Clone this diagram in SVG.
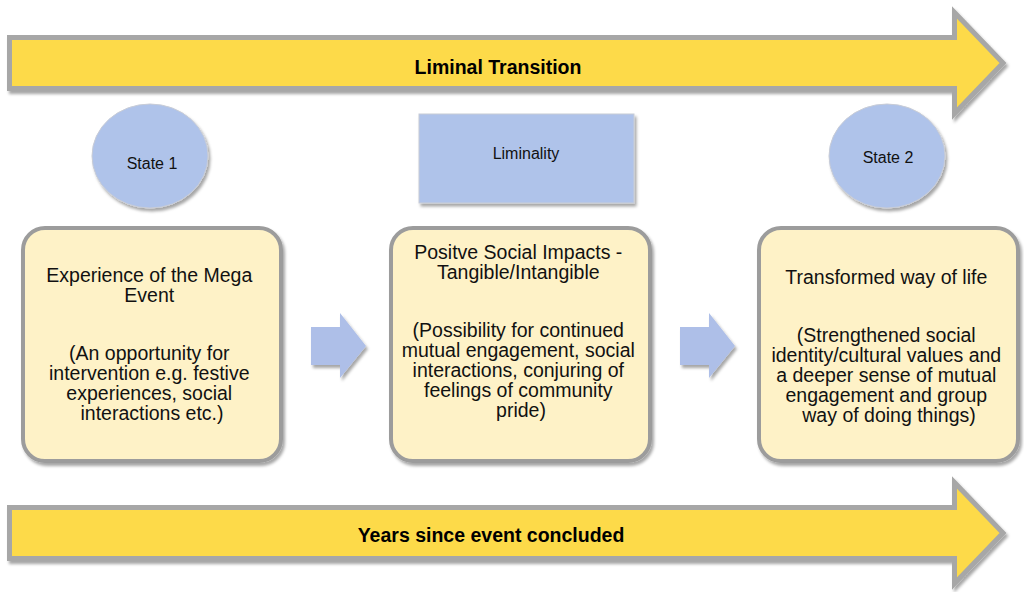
<svg xmlns="http://www.w3.org/2000/svg" width="1024" height="592" viewBox="0 0 1024 592">
<defs>
<filter id="sh" x="-10%" y="-10%" width="130%" height="140%">
<feDropShadow dx="2" dy="3" stdDeviation="1.8" flood-color="#000" flood-opacity="0.35"/>
</filter>
<style>
.bigarrow{fill:#FDDA48;stroke:#A7A7A7;stroke-width:5;filter:url(#sh)}
.box{fill:#FEF2C7;stroke:#9C9C9C;stroke-width:4;filter:url(#sh)}
.blue{fill:#AFC3EA;stroke:#C8CCD6;stroke-width:1;filter:url(#sh)}
.flow{fill:#AEBFE8;filter:url(#sh)}
.t{font-family:"Liberation Sans",Arial,sans-serif;font-size:19.5px;fill:#111;text-anchor:middle}
.b{font-family:"Liberation Sans",Arial,sans-serif;font-size:19.5px;font-weight:bold;fill:#000;text-anchor:middle}
.s{font-family:"Liberation Sans",Arial,sans-serif;font-size:16px;fill:#111;text-anchor:middle}
</style>
</defs>
<rect width="1024" height="592" fill="#FFFFFF"/>
<g id="liminal-transition">
<path class="bigarrow" d="M9.5,37.5 H954.5 V12.5 L1003,63 L954.5,113.5 V88.5 H9.5 Z"/>
<text class="b" x="498" y="74">Liminal Transition</text>
</g>
<g id="years-since">
<path class="bigarrow" d="M9.5,507.5 H954.5 V482.5 L1003,533 L954.5,583.5 V558.5 H9.5 Z"/>
<text class="b" x="491" y="542">Years since event concluded</text>
</g>
<g id="state1">
<ellipse class="blue" cx="150" cy="156" rx="58" ry="52"/>
<text class="s" x="152" y="169">State 1</text>
</g>
<g id="liminality">
<rect class="blue" x="419" y="114" width="215" height="89"/>
<text class="s" x="526" y="159">Liminality</text>
</g>
<g id="state2">
<ellipse class="blue" cx="887" cy="156" rx="58" ry="52"/>
<text class="s" x="888" y="163">State 2</text>
</g>
<g id="box1">
<rect class="box" x="23" y="228" width="258" height="233" rx="22"/>
<text class="t">
<tspan x="152" y="282">Experience of the Mega</tspan>
<tspan x="152" y="302">Event</tspan>
<tspan x="152" y="360">(An opportunity for</tspan>
<tspan x="152" y="380">intervention e.g. festive</tspan>
<tspan x="152" y="400">experiences, social</tspan>
<tspan x="152" y="420">interactions etc.)</tspan>
</text>
</g>
<g id="box2">
<rect class="box" x="391" y="228" width="259" height="233" rx="22"/>
<text class="t">
<tspan x="521" y="259">Positve Social Impacts -</tspan>
<tspan x="521" y="279">Tangible/Intangible</tspan>
<tspan x="521" y="337">(Possibility for continued</tspan>
<tspan x="521" y="357">mutual engagement, social</tspan>
<tspan x="521" y="377">interactions, conjuring of</tspan>
<tspan x="521" y="397">feelings of community</tspan>
<tspan x="521" y="417">pride)</tspan>
</text>
</g>
<g id="box3">
<rect class="box" x="759" y="228" width="259" height="233" rx="22"/>
<text class="t">
<tspan x="889" y="284">Transformed way of life</tspan>
<tspan x="889" y="342">(Strengthened social</tspan>
<tspan x="889" y="362">identity/cultural values and</tspan>
<tspan x="889" y="382">a deeper sense of mutual</tspan>
<tspan x="889" y="402">engagement and group</tspan>
<tspan x="889" y="422">way of doing things)</tspan>
</text>
</g>
<g id="connectors">
<path class="flow" d="M311,327 H340 V313 L366,346 L340,378 V365 H311 Z"/>
<path class="flow" d="M680,327 H709 V313 L735,346 L709,378 V365 H680 Z"/>
</g>
</svg>
